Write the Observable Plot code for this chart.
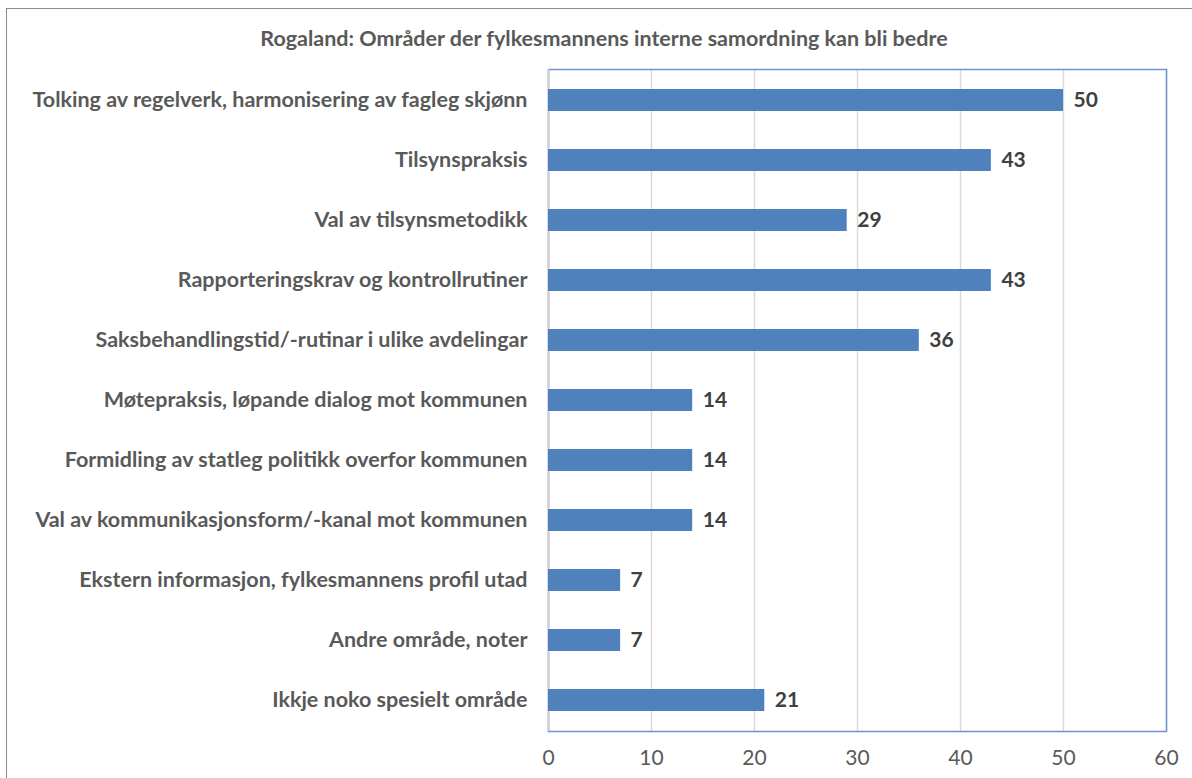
<!DOCTYPE html>
<html>
<head>
<meta charset="utf-8">
<script src="https://cdn.jsdelivr.net/npm/d3@7"></script>
<script src="https://cdn.jsdelivr.net/npm/@observablehq/plot@0.6"></script>
<style>
  html, body { margin: 0; padding: 0; background: #fff; width: 1192px; height: 778px; overflow: hidden; }
  #frame { position: absolute; left: 6px; top: 8px; width: 1200px; height: 800px; border: 1px solid #8c8c8c; box-sizing: border-box; }
  #title { position: absolute; left: 6px; top: 24px; width: 1196px; text-align: center; font-family: Lato, sans-serif; font-weight: bold; font-size: 21.5px; line-height: 28px; color: #595959; }
  #chart { position: absolute; left: 0; top: 60px; }
</style>
</head>
<body>
<div id="frame"></div>
<div id="title">Rogaland: Områder der fylkesmannens interne samordning kan bli bedre</div>
<div id="chart"></div>
<script>
const categories = [
  "Tolking av regelverk, harmonisering av fagleg skjønn",
  "Tilsynspraksis",
  "Val av tilsynsmetodikk",
  "Rapporteringskrav og kontrollrutiner",
  "Saksbehandlingstid/-rutinar i ulike avdelingar",
  "Møtepraksis, løpande dialog mot kommunen",
  "Formidling av statleg politikk overfor kommunen",
  "Val av kommunikasjonsform/-kanal mot kommunen",
  "Ekstern informasjon, fylkesmannens profil utad",
  "Andre område, noter",
  "Ikkje noko spesielt område"
];
const values = [50, 43, 29, 43, 36, 14, 14, 14, 7, 7, 21];
const xTicks = [0, 10, 20, 30, 40, 50, 60];

const data = categories.map((c, i) => ({category: c, value: values[i]}));

const chart = Plot.plot({
  width: 1192,
  height: 718,
  marginLeft: 548,
  marginRight: 26,
  marginTop: 9,
  marginBottom: 47,
  style: {fontFamily: "Lato, sans-serif", background: "transparent"},
  x: {domain: [0, 60], ticks: xTicks, label: null},
  y: {domain: categories, label: null, paddingInner: 0.63, paddingOuter: 0.315, align: 0.5},
  marks: [
    Plot.gridX(xTicks, {stroke: "#d9d9d9", strokeOpacity: 1, strokeWidth: 1.5}),
    Plot.frame({stroke: "#6f93c8", strokeWidth: 1.5}),
    Plot.ruleX([0], {stroke: "#d0d0d0", strokeWidth: 1.5}),
    Plot.barX(data, {x: "value", y: "category", fill: "#4f81bd"}),
    Plot.text(data, {x: "value", y: "category", text: d => String(d.value), textAnchor: "start", dx: 10, fontWeight: "bold", fontSize: 21, fill: "#404040"}),
    Plot.axisY({tickSize: 0, tickPadding: 21, fontSize: 21.5, fontWeight: "bold", fill: "#595959", label: null}),
    Plot.axisX(xTicks, {tickSize: 0, tickPadding: 19, fontSize: 21, fill: "#595959", label: null})
  ]
});
document.getElementById("chart").appendChild(chart);
</script>
</body>
</html>
